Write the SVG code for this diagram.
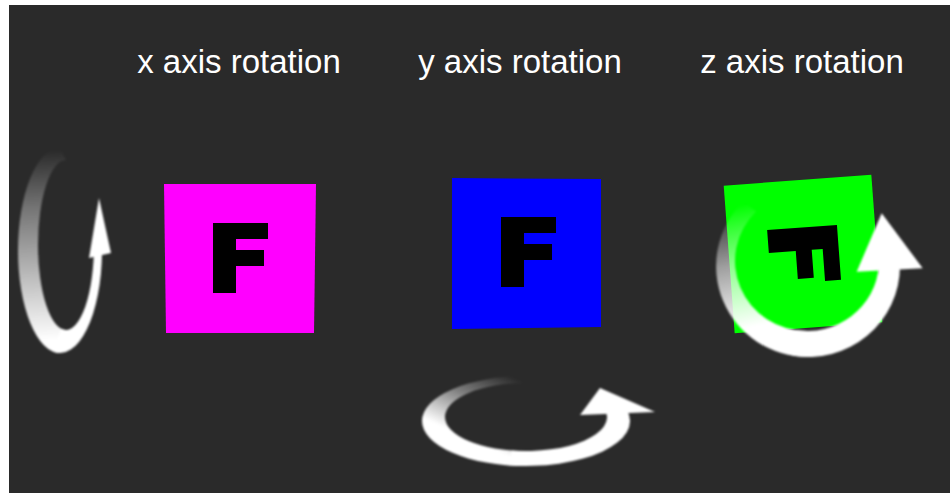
<svg xmlns="http://www.w3.org/2000/svg" xmlns:xlink="http://www.w3.org/1999/xlink" width="950" height="493" viewBox="0 0 950 493">
<style>
.lbl{font-family:"Liberation Sans",Arial,sans-serif;font-size:33px;fill:#ffffff;text-anchor:middle}
.glyph{fill:#000000}
.solid{fill:#ffffff}
</style>
<defs>
<path id="F" d="M0,0 H55 V16 H23 V27 H51 V43 H23 V70 H0 Z"/>
<filter id="soft" x="-20%" y="-20%" width="140%" height="140%"><feGaussianBlur stdDeviation="1.1"/></filter>
<linearGradient id="gx" gradientUnits="userSpaceOnUse" x1="55" y1="150" x2="62" y2="340">
<stop offset="0" stop-color="#fff" stop-opacity="0"/>
<stop offset="0.3" stop-color="#fff" stop-opacity="0.35"/>
<stop offset="1" stop-color="#fff" stop-opacity="1"/>
</linearGradient>
<linearGradient id="gy" gradientUnits="userSpaceOnUse" x1="510" y1="376" x2="470" y2="466">
<stop offset="0" stop-color="#fff" stop-opacity="0"/>
<stop offset="0.35" stop-color="#fff" stop-opacity="0.4"/>
<stop offset="0.75" stop-color="#fff" stop-opacity="1"/>
</linearGradient>
<linearGradient id="gz" gradientUnits="userSpaceOnUse" x1="740" y1="205" x2="770" y2="345">
<stop offset="0" stop-color="#fff" stop-opacity="0"/>
<stop offset="0.4" stop-color="#fff" stop-opacity="0.55"/>
<stop offset="0.85" stop-color="#fff" stop-opacity="1"/>
</linearGradient>
</defs>
<rect x="9" y="5" width="941" height="488" fill="#2a2a2a"/>
<g id="labels">
<text class="lbl" x="239" y="73">x axis rotation</text>
<text class="lbl" x="520" y="73">y axis rotation</text>
<text class="lbl" x="802" y="73">z axis rotation</text>
</g>
<g id="square-x">
<polygon points="164,184 316,184 314,333 166,333" fill="#ff00ff"/>
<use xlink:href="#F" class="glyph" transform="translate(213,223)"/>
</g>
<g id="square-y">
<polygon points="452,178 601,179 601,327 452,329" fill="#0000ff"/>
<use xlink:href="#F" class="glyph" transform="translate(501,217)"/>
</g>
<g id="square-z" transform="rotate(-4.25 803 254)">
<rect x="729" y="180" width="148" height="148" fill="#00ff00"/>
<use xlink:href="#F" class="glyph" transform="translate(839,227.5) rotate(90)"/>
</g>
<g id="rotation-arrows">
<g id="arrow-x" filter="url(#soft)">
<path fill="url(#gx)" d="M60,148 A42,102.5 0 0 0 60,353 L66,330 A28,85 0 0 1 66,160 Z"/>
<path class="solid" d="M52.7,351.4 A42,102.5 0 0 0 102,252 L93.9,252 A28,85 0 0 1 61.1,328.7 Z"/>
<polygon class="solid" points="99,198 111,253 89,258"/>
</g>
<g id="arrow-y" filter="url(#soft)">
<path fill="url(#gy)" d="M526,376 A104,45 0 0 0 526,466 L526,451 A81,34 0 0 1 526,383 Z"/>
<path class="solid" d="M507.9,465.3 A104,45 0 0 0 626.9,410 L605.3,410 A81,34 0 0 1 511.9,450.5 Z"/>
<polygon class="solid" points="600,388 655,412 580,415"/>
</g>
<g id="arrow-z" filter="url(#soft)">
<path fill="url(#gz)" d="M743,201.7 A92,91 0 0 0 808,357 L807,331 A72,70 0 0 1 756.1,211.5 Z"/>
<path class="solid" d="M792,355.6 A92,91 0 0 0 900,266 L878.8,266 A72,70 0 0 1 794.5,330 Z"/>
<polygon class="solid" points="881.7,213.3 922.7,268.3 856.7,271.7"/>
</g>
</g>
</svg>
